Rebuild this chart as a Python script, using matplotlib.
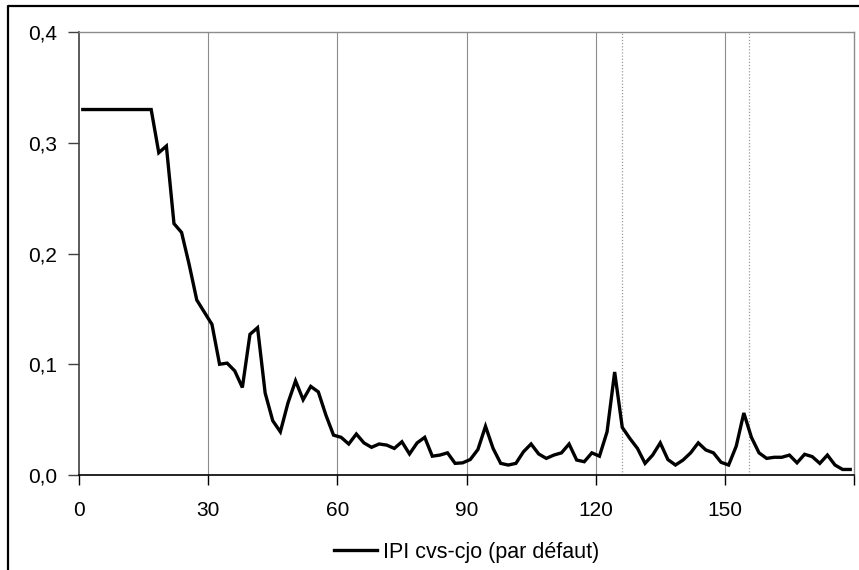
import matplotlib
matplotlib.use("Agg")
import matplotlib.pyplot as plt
from matplotlib.ticker import FuncFormatter
from matplotlib.lines import Line2D

# spectre (periodogramme) IPI cvs-cjo, frequences en degres
n_points = 102
freq = [(k + 0.5) * 180 / n_points for k in range(n_points)]
spectrum = [0.330, 0.330, 0.330, 0.330, 0.330, 0.330, 0.330, 0.330, 0.330, 0.330,
            0.291, 0.297, 0.227, 0.219, 0.190, 0.158, 0.147, 0.136, 0.100, 0.101,
            0.094, 0.079, 0.127, 0.133, 0.074, 0.049, 0.039, 0.065, 0.085, 0.068,
            0.080, 0.075, 0.054, 0.036, 0.034, 0.028, 0.037, 0.029, 0.025, 0.028,
            0.027, 0.024, 0.030, 0.019, 0.029, 0.034, 0.017, 0.018, 0.020, 0.0105,
            0.011, 0.014, 0.023, 0.044, 0.024, 0.0105, 0.009, 0.0105, 0.021, 0.028,
            0.019, 0.015, 0.018, 0.020, 0.028, 0.0135, 0.012, 0.020, 0.017, 0.039,
            0.093, 0.043, 0.033, 0.024, 0.0105, 0.018, 0.029, 0.014, 0.009, 0.0135,
            0.020, 0.029, 0.0226, 0.020, 0.0115, 0.009, 0.026, 0.056, 0.034, 0.020,
            0.015, 0.016, 0.016, 0.018, 0.011, 0.0187, 0.0166, 0.0105, 0.018, 0.009,
            0.005, 0.005]
grid_x = [30, 60, 90, 120, 150]
td_freq = [126.0, 155.7]   # frequences jours ouvrables
x_ticks = [0, 30, 60, 90, 120, 150, 180]
x_labels = ["0", "30", "60", "90", "120", "150", ""]
y_ticks = [0.0, 0.1, 0.2, 0.3, 0.4]
label = "IPI cvs-cjo (par défaut)"

plt.rcParams["font.family"] = ["Liberation Sans", "DejaVu Sans"]

fig = plt.figure(figsize=(8.59, 5.70), dpi=100)
ax = fig.add_axes([79 / 859, 95 / 570, 775 / 859, 443 / 570])

for gx in grid_x:
    ax.axvline(gx, color="#8c8c8c", lw=0.8, zorder=1)
for tx in td_freq:
    ax.axvline(tx, color="#9a9a9a", lw=0.9, ls=(0, (1, 1.5)), zorder=1)

line, = ax.plot(freq, spectrum, color="black", lw=2.4, zorder=3,
                solid_joinstyle="miter")

ax.set_xlim(0, 180)
ax.set_ylim(0, 0.4)
ax.set_xticks(x_ticks)
ax.set_xticklabels(x_labels)
ax.set_yticks(y_ticks)
ax.yaxis.set_major_formatter(FuncFormatter(lambda v, p: f"{v:.1f}".replace(".", ",")))

ax.tick_params(axis="y", direction="out", length=8, width=1, color="#404040",
               pad=8, labelsize=15)
ax.tick_params(axis="x", direction="out", length=7, width=1, color="black",
               pad=12, labelsize=15)

ax.spines["left"].set_color("#404040")
ax.spines["left"].set_linewidth(1.2)
ax.spines["bottom"].set_color("black")
ax.spines["bottom"].set_linewidth(1.2)
ax.spines["top"].set_color("#8c8c8c")
ax.spines["right"].set_color("#8c8c8c")
ax.spines["top"].set_linewidth(1)
ax.spines["right"].set_linewidth(1)

leg = fig.legend([line], [label], loc="center", bbox_to_anchor=(0.543, 0.031),
                 frameon=False, handlelength=2.0, handletextpad=0.25,
                 prop={"size": 15.5})

# cadre exterieur
fig.add_artist(Line2D([8 / 859, 8 / 859, 1.0], [0.0, 564 / 570, 564 / 570],
                      transform=fig.transFigure, color="black", lw=1.6))

fig.savefig("out.png", dpi=100)
